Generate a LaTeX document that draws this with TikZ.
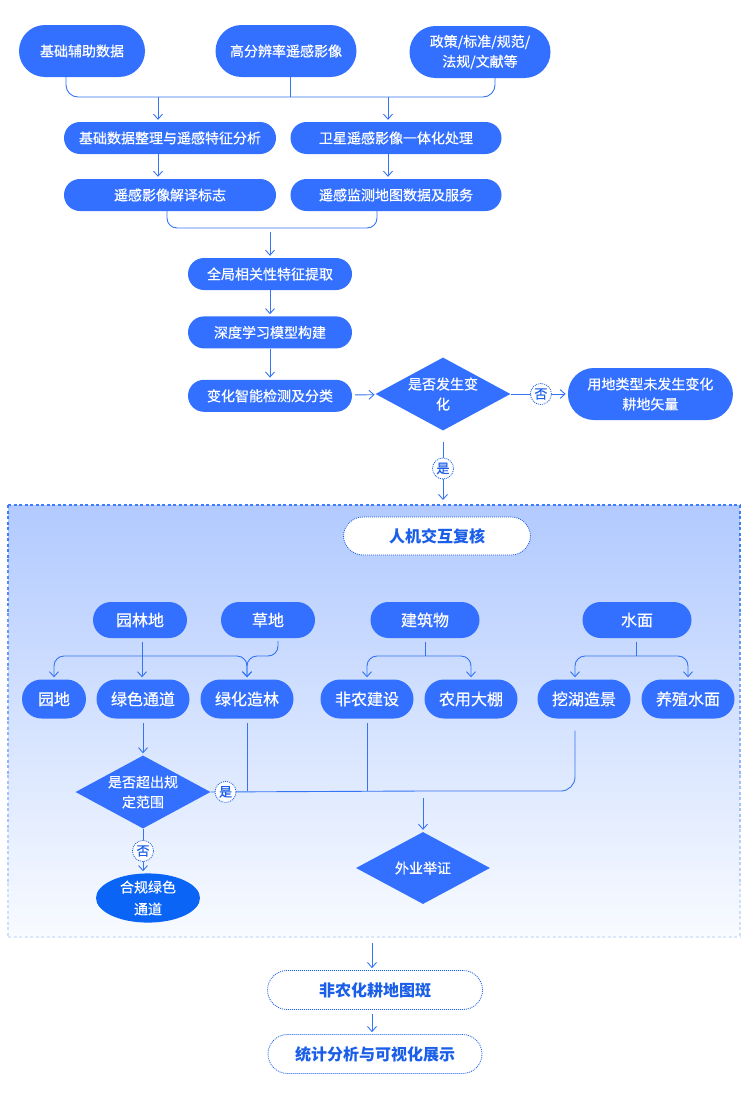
\documentclass[tikz,border=0pt]{standalone}
\usepackage{fontspec}
\setmainfont{Noto Sans CJK SC}
\newfontfamily\medfont{Noto Sans CJK SC}[FakeBold=0.5]
\usetikzlibrary{shapes.geometric,arrows.meta,positioning}

\definecolor{boxblue}{HTML}{3370FF}
\definecolor{deepblue}{HTML}{0A64F5}
\definecolor{textblue}{HTML}{1B5FE8}
\definecolor{linecol}{HTML}{3474F5}
\definecolor{bgtop}{HTML}{B2CAFF}
\definecolor{bgbot}{HTML}{F8FBFF}
\definecolor{edgeblue}{HTML}{3F7EF6}
\definecolor{edgepale}{HTML}{DCE7FC}

\tikzset{
  pill/.style={rectangle, fill=boxblue, text=white, inner sep=0pt, align=center},
  src/.style={pill, minimum height=52pt, rounded corners=26pt},
  bar/.style={pill, minimum height=32pt, rounded corners=16pt},
  group/.style={pill, minimum height=36pt, rounded corners=18pt, font=\fontsize{16}{20}\medfont},
  leaf/.style={pill, minimum width=93pt, minimum height=39pt, rounded corners=19.5pt, font=\fontsize{16}{20}\medfont},
  dotbox/.style={rectangle, draw=textblue, line width=0.8pt, dash pattern=on 1pt off 1pt, fill=white,
    text=textblue, minimum height=39pt, rounded corners=19.5pt, font=\fontsize{16}{20}\selectfont\bfseries},
  decide/.style={diamond, fill=boxblue, text=white, aspect=1.85, inner sep=0pt, align=center,
    minimum width=135pt, minimum height=73pt},
  yn/.style={circle, draw=textblue, line width=0.8pt, dash pattern=on 1pt off 1pt, fill=white, text=textblue,
    inner sep=0pt, minimum size=21pt, font=\fontsize{13}{15}\medfont},
  wire/.style={draw=linecol, line width=0.9pt},
  arr/.style={wire, -{Straight Barb[length=5pt,width=9pt]}, shorten >=2pt}
}

\begin{document}
\begin{tikzpicture}[x=1pt, y=-1pt, font=\fontsize{14}{20}\medfont]
  \useasboundingbox (0,0) rectangle (750,1100);

  % review area
  \shade[top color=bgtop, bottom color=bgbot] (8,505) rectangle (740,937);
  \draw[edgeblue, line width=1.2pt, dash pattern=on 3pt off 2.5pt] (8,505) -- (740,505);
  \foreach \k in {0,...,7} {
    \pgfmathtruncatemacro\c{100-13*\k}
    \draw[edgeblue!\c!edgepale, line width=1.2pt, dash pattern=on 3pt off 2.5pt]
      (8,505+54*\k) -- (8,559+54*\k) (740,505+54*\k) -- (740,559+54*\k);
  }
  \draw[edgepale, line width=1.2pt, dash pattern=on 3pt off 2.5pt] (8,937) -- (740,937);

  \node (jc) [src, minimum width=126pt] at (82,51) {基础辅助数据};
  \node (gf) [src, minimum width=141pt] at (286,51) {高分辨率遥感影像};
  \node (zc) [src, minimum width=141pt] at (480,52) {政策/标准/规范/\\法规/文献等};

  \node (zl) [bar, minimum width=212pt] at (170,138) {基础数据整理与遥感特征分析};
  \node (wx) [bar, minimum width=211pt] at (396,138) {卫星遥感影像一体化处理};
  \node (js) [bar, minimum width=212pt] at (170,195) {遥感影像解译标志};
  \node (fw) [bar, minimum width=211pt] at (396,195) {遥感监测地图数据及服务};

  \node (qj) [bar, minimum width=164pt] at (270,274) {全局相关性特征提取};
  \node (sd) [bar, minimum width=164pt, below=26pt of qj] {深度学习模型构建};
  \node (bh) [bar, minimum width=164pt, below=31pt of sd] {变化智能检测及分类};
  \node (d1) [decide] at (443,394) {是否发生变\\化};
  \node (wb) [src, minimum width=165pt, right=57pt of d1] {用地类型未发生变化\\耕地矢量};

  \node (fh) [dotbox, minimum width=187pt, minimum height=38pt] at (437,536) {人机交互复核};

  \node (yl) [group, minimum width=94pt] at (140,620) {园林地};
  \node (cd) [group, minimum width=94pt] at (268,620) {草地};
  \node (jz) [group, minimum width=109pt] at (425,620) {建筑物};
  \node (sm) [group, minimum width=109pt] at (637,620) {水面};

  \node (yd) [leaf, minimum width=64pt] at (54,699) {园地};
  \node (ls) [leaf] at (143,699) {绿色通道};
  \node (lh) [leaf] at (247,699) {绿化造林};
  \node (fn) [leaf] at (367,699) {非农建设};
  \node (ny) [leaf] at (471,699) {农用大棚};
  \node (wh) [leaf] at (584,699) {挖湖造景};
  \node (yz) [leaf] at (688,699) {养殖水面};

  \node (d2) [decide] at (143,792) {是否超出规\\定范围};
  \node (hg) [ellipse, fill=deepblue, text=white, inner sep=0pt, align=center,
    minimum width=104pt, minimum height=49pt, font=\fontsize{14}{22}\medfont] at (148,898) {合规绿色\\通道};
  \node (d3) [decide, minimum width=134pt, minimum height=72pt] at (423,868) {外业举证};

  \node (ft) [dotbox, minimum width=215pt] at (375,990) {非农化耕地图斑};
  \node (tj) [dotbox, minimum width=214pt] at (375,1054) {统计分析与可视化展示};

  \coordinate (h0) at (290,97);
  \coordinate (h1) at (158,97);
  \coordinate (h2) at (388,97);
  \coordinate (h3) at (270,228);
  \draw[wire, rounded corners=12pt] ([xshift=-16pt]jc.south) -- ([xshift=-16pt]jc.south |- h0)
    -- ([xshift=15pt]zc.south |- h0) -- ([xshift=15pt]zc.south);
  \draw[wire] (gf.south -| h0) -- (h0);
  \draw[arr] (h1) -- (h1 |- zl.north);
  \draw[arr] (h2) -- (h2 |- wx.north);
  \draw[arr] (h1 |- zl.south) -- (h1 |- js.north);
  \draw[arr] (h2 |- wx.south) -- (h2 |- fw.north);
  \draw[wire, rounded corners=10pt] ([xshift=-3pt]js.south) -- ([xshift=-3pt]js.south |- h3)
    -- ([xshift=-19pt]fw.south |- h3) -- ([xshift=-19pt]fw.south);
  \draw[arr, shorten <=4pt] (h3) -- (h3 |- qj.north);
  \draw[arr] (qj) -- (sd);
  \draw[arr] (sd) -- (bh);
  \draw[arr, shorten <=3pt] (bh) -- (d1);
  \draw[arr] (d1) -- node[yn, pos=0.53] {否} (wb);
  \coordinate (r0) at (443,502);
  \draw[arr, shorten <=11pt] (d1.south) -- node[yn, pos=0.53] {是} (r0);

  \coordinate (t1) at (142,656);
  \coordinate (t2) at (425,656);
  \coordinate (t3) at (636,656);
  \coordinate (w1) at ([xshift=-9pt]wh.north);
  \coordinate (w2) at ([xshift=-9pt]wh.south);
  \draw[arr, shorten <=4pt] (yl.south -| t1) -- (t1 |- ls.north);
  \draw[arr, rounded corners=10pt] (t1) -- (t1 -| yd.north) -- (yd.north);
  \draw[arr, rounded corners=10pt] (t1) -- (t1 -| lh.north) -- (lh.north);
  \draw[arr, rounded corners=10pt, shorten <=3pt] ([xshift=10pt]cd.south) -- ([xshift=10pt]cd.south |- t1)
    -- (t1 -| lh.north) -- (lh.north);
  \draw[wire, shorten <=4pt] (jz) -- (t2);
  \draw[arr, rounded corners=10pt] (t2) -- (t2 -| fn.north) -- (fn.north);
  \draw[arr, rounded corners=10pt] (t2) -- (t2 -| ny.north) -- (ny.north);
  \draw[wire, shorten <=4pt] (sm.south -| t3) -- (t3);
  \draw[arr, rounded corners=10pt] (t3) -- (t3 -| w1) -- (w1);
  \draw[arr, rounded corners=10pt] (t3) -- (t3 -| yz.north) -- (yz.north);

  \coordinate (t4) at (423,791);
  \draw[arr, shorten <=4pt] (ls) -- (d2);
  \draw[arr] (d2.south) -- node[yn] {否} (d2.south |- hg.north);
  \draw[wire] (d2.east) -- node[yn, pos=0.07] {是} (t4);
  \draw[wire, rounded corners=14pt] (t4) -- (t4 -| w2) -- ([yshift=-12pt]w2);
  \draw[wire, shorten <=4pt] (lh.south) -- (lh.south |- t4);
  \draw[wire, shorten <=4pt] (fn.south) -- (fn.south |- t4);
  \draw[arr, shorten <=7pt] (t4) -- (d3);

  \coordinate (r1) at (372,943);
  \draw[arr] (r1) -- (r1 |- ft.north);
  \draw[arr, shorten <=4pt] (r1 |- ft.south) -- (r1 |- tj.north);
\end{tikzpicture}
\end{document}
